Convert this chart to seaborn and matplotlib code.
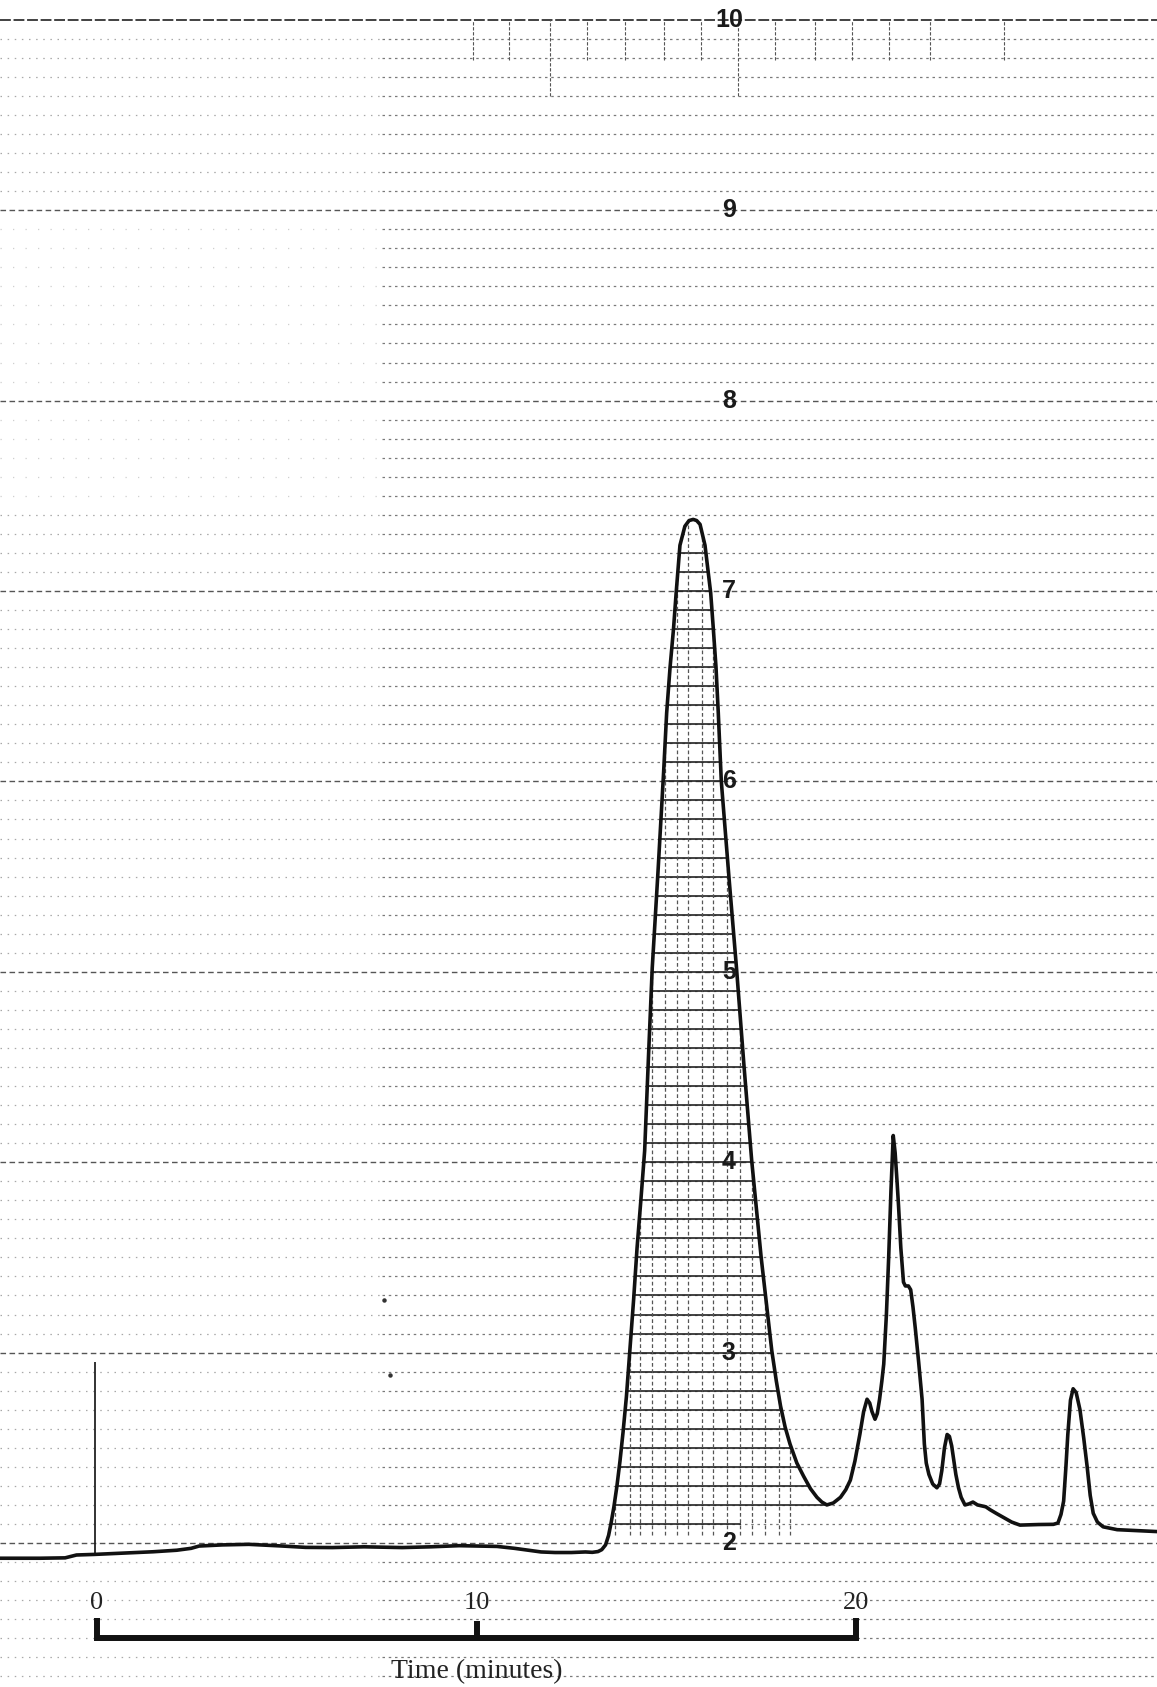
import numpy as np
import pandas as pd
import matplotlib
matplotlib.use("Agg")
import matplotlib.pyplot as plt
import seaborn as sns

# ---------------- data ----------------
time_min = [-2.56, -1.5, -0.84, -0.54, -0.08, 0.7, 1.48, 2.1, 2.48, 2.69, 3.3, 4.00,
            4.8, 5.50, 6.2, 7.04, 8.04, 8.8, 9.54, 10.54, 11.0, 11.36, 11.7, 12.07,
            12.5, 12.87, 13.05, 13.2, 13.3, 13.4, 13.48, 13.55, 13.62, 13.7, 13.78,
            13.86, 13.95, 14.04, 14.14, 14.23, 14.33, 14.43, 14.53, 14.63, 14.78,
            14.93, 15.01, 15.10, 15.19, 15.26, 15.36, 15.49, 15.60, 15.71, 15.80,
            15.89, 16.02, 16.11, 16.17, 16.24, 16.31, 16.37, 16.45, 16.65, 16.85,
            17.05, 17.25, 17.5, 17.78, 17.9, 18.01, 18.13, 18.26, 18.44, 18.62,
            18.8, 18.97, 19.1, 19.23, 19.4, 19.59, 19.73, 19.85, 19.97, 20.1, 20.2,
            20.29, 20.36, 20.42, 20.50, 20.56, 20.62, 20.68, 20.73, 20.80, 20.86,
            20.92, 20.98, 21.03, 21.08, 21.12, 21.18, 21.25, 21.30, 21.38, 21.44,
            21.50, 21.56, 21.65, 21.74, 21.80, 21.85, 21.92, 22.02, 22.13, 22.2,
            22.26, 22.33, 22.40, 22.46, 22.52, 22.58, 22.63, 22.70, 22.77, 22.87,
            22.97, 23.08, 23.2, 23.31, 23.42, 23.53, 23.7, 23.88, 24.1, 24.32,
            24.81, 25.2, 25.32, 25.40, 25.47, 25.53, 25.58, 25.65, 25.72, 25.80,
            25.90, 26.0, 26.09, 26.17, 26.25, 26.36, 26.51, 26.88, 27.4, 27.93]
signal = [1.920, 1.920, 1.922, 1.937, 1.940, 1.947, 1.954, 1.962, 1.972, 1.984, 1.990,
          1.993, 1.985, 1.977, 1.976, 1.980, 1.976, 1.980, 1.986, 1.982, 1.972,
          1.962, 1.953, 1.950, 1.950, 1.953, 1.951, 1.955, 1.965, 1.990, 2.040,
          2.110, 2.190, 2.300, 2.430, 2.580, 2.770, 3.010, 3.280, 3.550, 3.800,
          4.060, 4.550, 5.020, 5.520, 6.050, 6.360, 6.600, 6.800, 6.990, 7.240,
          7.340, 7.370, 7.376, 7.370, 7.350, 7.240, 7.090, 6.990, 6.800, 6.600,
          6.360, 6.000, 5.500, 5.020, 4.500, 4.010, 3.500, 3.010, 2.850, 2.720,
          2.610, 2.520, 2.420, 2.350, 2.285, 2.240, 2.215, 2.200, 2.210, 2.240,
          2.280, 2.330, 2.430, 2.570, 2.690, 2.755, 2.735, 2.690, 2.650, 2.680,
          2.755, 2.850, 2.940, 3.200, 3.500, 3.850, 4.140, 4.050, 3.900, 3.770,
          3.550, 3.370, 3.350, 3.350, 3.330, 3.240, 3.130, 2.950, 2.755, 2.520,
          2.420, 2.360, 2.310, 2.290, 2.310, 2.380, 2.500, 2.570, 2.560, 2.510,
          2.430, 2.360, 2.290, 2.240, 2.200, 2.205, 2.215, 2.200, 2.195, 2.190,
          2.175, 2.155, 2.135, 2.110, 2.094, 2.097, 2.098, 2.105, 2.150, 2.220,
          2.400, 2.570, 2.750, 2.810, 2.790, 2.700, 2.550, 2.400, 2.250, 2.156,
          2.110, 2.085, 2.070, 2.065, 2.060]

scale_values = [2, 3, 4, 5, 6, 7, 8, 9, 10]
axis_ticks = [0, 10, 20]
axis_tick_labels = ["0", "10", "20"]
axis_title = "Time (minutes)"
injection_time = -0.05
injection_top = 2.95
peak_start, peak_top_t, peak_end = 13.0, 15.71, 19.23
hatch_levels = [round(2.1 + 0.1 * k, 1) for k in range(52)]   # 2.1 ... 7.2
hatch_vertical_t = [13.65, 14.05, 14.31, 14.62, 14.97, 15.28, 15.58, 15.94,
                    16.24, 16.60, 16.95, 17.25, 17.61, 17.96, 18.27]
top_ticks_t = [9.9, 10.86, 11.94, 12.9, 13.9, 14.94, 15.92, 16.9, 17.87,
               18.92, 19.9, 20.87, 21.95, 23.9]
specks_t = [7.57, 7.71]
specks_v = [3.275, 2.88]

# ---------------- figure ----------------
sns.set_style("white")
plt.rcParams['font.family'] = ['Liberation Sans', 'DejaVu Sans']

W, H = 1157, 1687
fig = plt.figure(figsize=(W / 100, H / 100), dpi=100)
ax = fig.add_axes([0, 0, 1, 1])
XMIN, XMAX = -2.556, 27.93
YMIN, YMAX = 1.2437, 10.104
ax.set_xlim(XMIN, XMAX)
ax.set_ylim(YMIN, YMAX)
ax.axis("off")

# chart-paper grid (every 0.1 unit)
levels = np.round(np.arange(1.3, 10.0001, 0.1), 1)
split_t = 7.5
for lv in levels:
    is_int = abs(lv - round(lv)) < 1e-6
    if lv == 10:
        ax.hlines(lv, XMIN, XMAX, colors="#333333", linewidth=1.3,
                  linestyles=(0, (6, 1.5)), zorder=1)
        continue
    if 7.45 < lv < 9.05 and not is_int:
        left_col, left_ls = "#cfcfcf", (0, (1, 9))
    else:
        left_col, left_ls = "#a8a8a8", (0, (1.2, 4.5))
    if is_int:
        ax.hlines(lv, XMIN, XMAX, colors="#555555", linewidth=1.0,
                  linestyles=(0, (4, 2.5)), zorder=1)
    else:
        ax.hlines(lv, XMIN, split_t, colors=left_col, linewidth=0.9,
                  linestyles=left_ls, zorder=1)
        ax.hlines(lv, split_t, XMAX, colors="#7a7a7a", linewidth=0.9,
                  linestyles=(0, (2, 3)), zorder=1)

# short vertical rulings under the "10" line
for tt in top_ticks_t:
    low = 9.6 if tt in (11.94, 16.9) else 9.79
    ax.vlines(tt, low, 10.0, colors="#555555", linewidth=0.8,
              linestyles=(0, (3, 1.5)), zorder=1)

# hatching under the main peak
t_arr = np.array(time_min)
s_arr = np.array(signal)
rise = (t_arr >= peak_start) & (t_arr <= peak_top_t)
fall = (t_arr >= peak_top_t) & (t_arr <= peak_end)
for lv in hatch_levels:
    left = np.interp(lv, s_arr[rise], t_arr[rise])
    if lv < s_arr[fall].min():
        right = 16.96
    else:
        right = np.interp(lv, s_arr[fall][::-1], t_arr[fall][::-1])
    ax.hlines(lv, left, right, colors="#222222", linewidth=1.2, zorder=2)
for tt in hatch_vertical_t:
    top = np.interp(tt, t_arr, s_arr)
    ax.vlines(tt, 2.04, top, colors="#555555", linewidth=0.9,
              linestyles=(0, (3, 2)), zorder=2)

# injection marker
ax.vlines(injection_time, np.interp(injection_time, t_arr, s_arr), injection_top,
          colors="#222222", linewidth=1.3, zorder=3)

# specks on the paper
ax.plot(specks_t, specks_v, linestyle="none", marker="o", markersize=2.2,
        color="#333333", zorder=3)

# chromatogram trace
df = pd.DataFrame({"time": time_min, "signal": signal})
sns.lineplot(data=df, x="time", y="signal", ax=ax, color="#111111",
             linewidth=2.6, sort=False, estimator=None, zorder=4)
for ln in ax.lines[-1:]:
    ln.set_solid_joinstyle("round")
    ln.set_solid_capstyle("round")

# recorder scale numbers
for v in scale_values:
    ax.text(16.65, v, str(v), ha="center", va="center", fontsize=18,
            fontweight="bold", color="#1a1a1a", zorder=5,
            family=["Liberation Sans", "DejaVu Sans"])

# time scale bar
bar_y, tick_y, mid_tick_y = 1.50, 1.606, 1.59
ax.plot([axis_ticks[0], axis_ticks[0], axis_ticks[-1], axis_ticks[-1]],
        [tick_y, bar_y, bar_y, tick_y], color="#111111", linewidth=4.3,
        solid_joinstyle="miter", solid_capstyle="butt", zorder=5)
for tk in axis_ticks[1:-1]:
    ax.plot([tk, tk], [bar_y, mid_tick_y], color="#111111", linewidth=4.3,
            solid_capstyle="butt", zorder=5)
for tk, lab in zip(axis_ticks, axis_tick_labels):
    ax.text(tk, 1.685, lab, ha="center", va="center", fontsize=19,
            color="#222222", family=["Liberation Serif", "DejaVu Serif"], zorder=5)
ax.text(10, 1.322, axis_title, ha="center", va="center", fontsize=20,
        color="#222222", family=["Liberation Serif", "DejaVu Serif"], zorder=5)

fig.savefig("out.png", dpi=100, facecolor="white")
